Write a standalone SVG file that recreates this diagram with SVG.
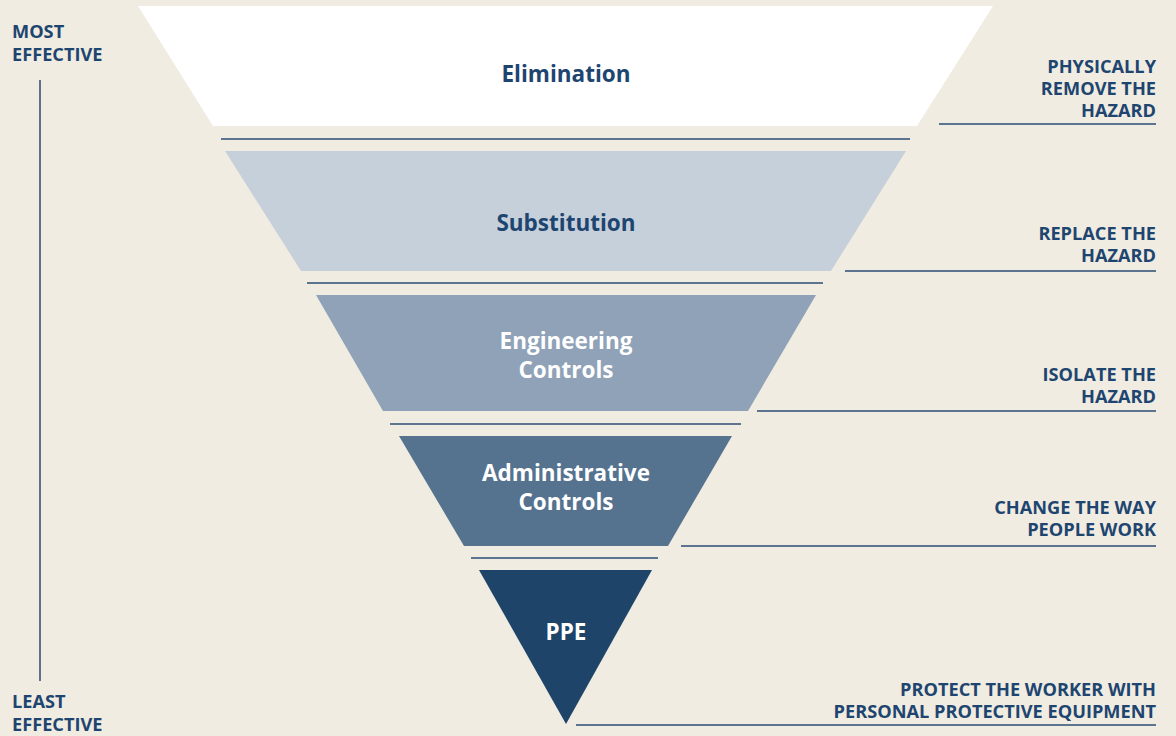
<svg xmlns="http://www.w3.org/2000/svg" width="1176" height="736" viewBox="0 0 1176 736">
  <style>
    .lvl { font-family: "Open Sans", "Liberation Sans", sans-serif; font-weight: 700; font-size: 22.5px; text-anchor: middle; }
    .dark { fill: #1e4570; }
    .light { fill: #ffffff; }
    .side { font-family: "Open Sans", "Liberation Sans", sans-serif; font-weight: 700; font-size: 18.2px; fill: #1e4570; }
    .right { text-anchor: end; }
    .rule { stroke: #2b4d74; stroke-width: 1.5; fill: none; }
  </style>
  <rect width="1176" height="736" fill="#f0ece1"/>

  <g id="axis">
    <text class="side" x="12" y="38">MOST</text>
    <text class="side" x="12" y="61">EFFECTIVE</text>
    <line class="rule" x1="40" y1="80" x2="40" y2="681"/>
    <text class="side" x="12" y="708">LEAST</text>
    <text class="side" x="12" y="731">EFFECTIVE</text>
  </g>

  <g id="separators">
    <line class="rule" x1="221" y1="139" x2="910" y2="139"/>
    <line class="rule" x1="307" y1="283" x2="823" y2="283"/>
    <line class="rule" x1="390" y1="424" x2="741" y2="424"/>
    <line class="rule" x1="471" y1="558" x2="658" y2="558"/>
  </g>

  <g id="connectors">
    <line class="rule" x1="939" y1="124" x2="1156" y2="124"/>
    <line class="rule" x1="845" y1="271" x2="1156" y2="271"/>
    <line class="rule" x1="757" y1="411" x2="1156" y2="411"/>
    <line class="rule" x1="681" y1="546" x2="1156" y2="546"/>
    <line class="rule" x1="576" y1="725" x2="1156" y2="725"/>
  </g>

  <g id="elimination">
    <polygon points="138,6 993,6 917,126 213,126" fill="#ffffff"/>
    <text class="lvl dark" x="566" y="82">Elimination</text>
    <text class="side right" x="1156" y="73">PHYSICALLY</text>
    <text class="side right" x="1156" y="95">REMOVE THE</text>
    <text class="side right" x="1156" y="117">HAZARD</text>
  </g>

  <g id="substitution">
    <polygon points="225,151 906,151 831,271 301,271" fill="#c6d0db"/>
    <text class="lvl dark" x="566" y="231">Substitution</text>
    <text class="side right" x="1156" y="240">REPLACE THE</text>
    <text class="side right" x="1156" y="262">HAZARD</text>
  </g>

  <g id="engineering">
    <polygon points="316,295 816,295 748,411 383,411" fill="#8fa2b7"/>
    <text class="lvl light" x="566" y="349">Engineering</text>
    <text class="lvl light" x="566" y="378">Controls</text>
    <text class="side right" x="1156" y="381">ISOLATE THE</text>
    <text class="side right" x="1156" y="403">HAZARD</text>
  </g>

  <g id="administrative">
    <polygon points="399,436 732,436 668,546 464,546" fill="#55728f"/>
    <text class="lvl light" x="566" y="481">Administrative</text>
    <text class="lvl light" x="566" y="510">Controls</text>
    <text class="side right" x="1156" y="514">CHANGE THE WAY</text>
    <text class="side right" x="1156" y="536">PEOPLE WORK</text>
  </g>

  <g id="ppe">
    <polygon points="479,570 652,570 566,724" fill="#1f4469"/>
    <text class="lvl light" x="566" y="640">PPE</text>
    <text class="side right" x="1156" y="696">PROTECT THE WORKER WITH</text>
    <text class="side right" x="1156" y="718">PERSONAL PROTECTIVE EQUIPMENT</text>
  </g>
</svg>
